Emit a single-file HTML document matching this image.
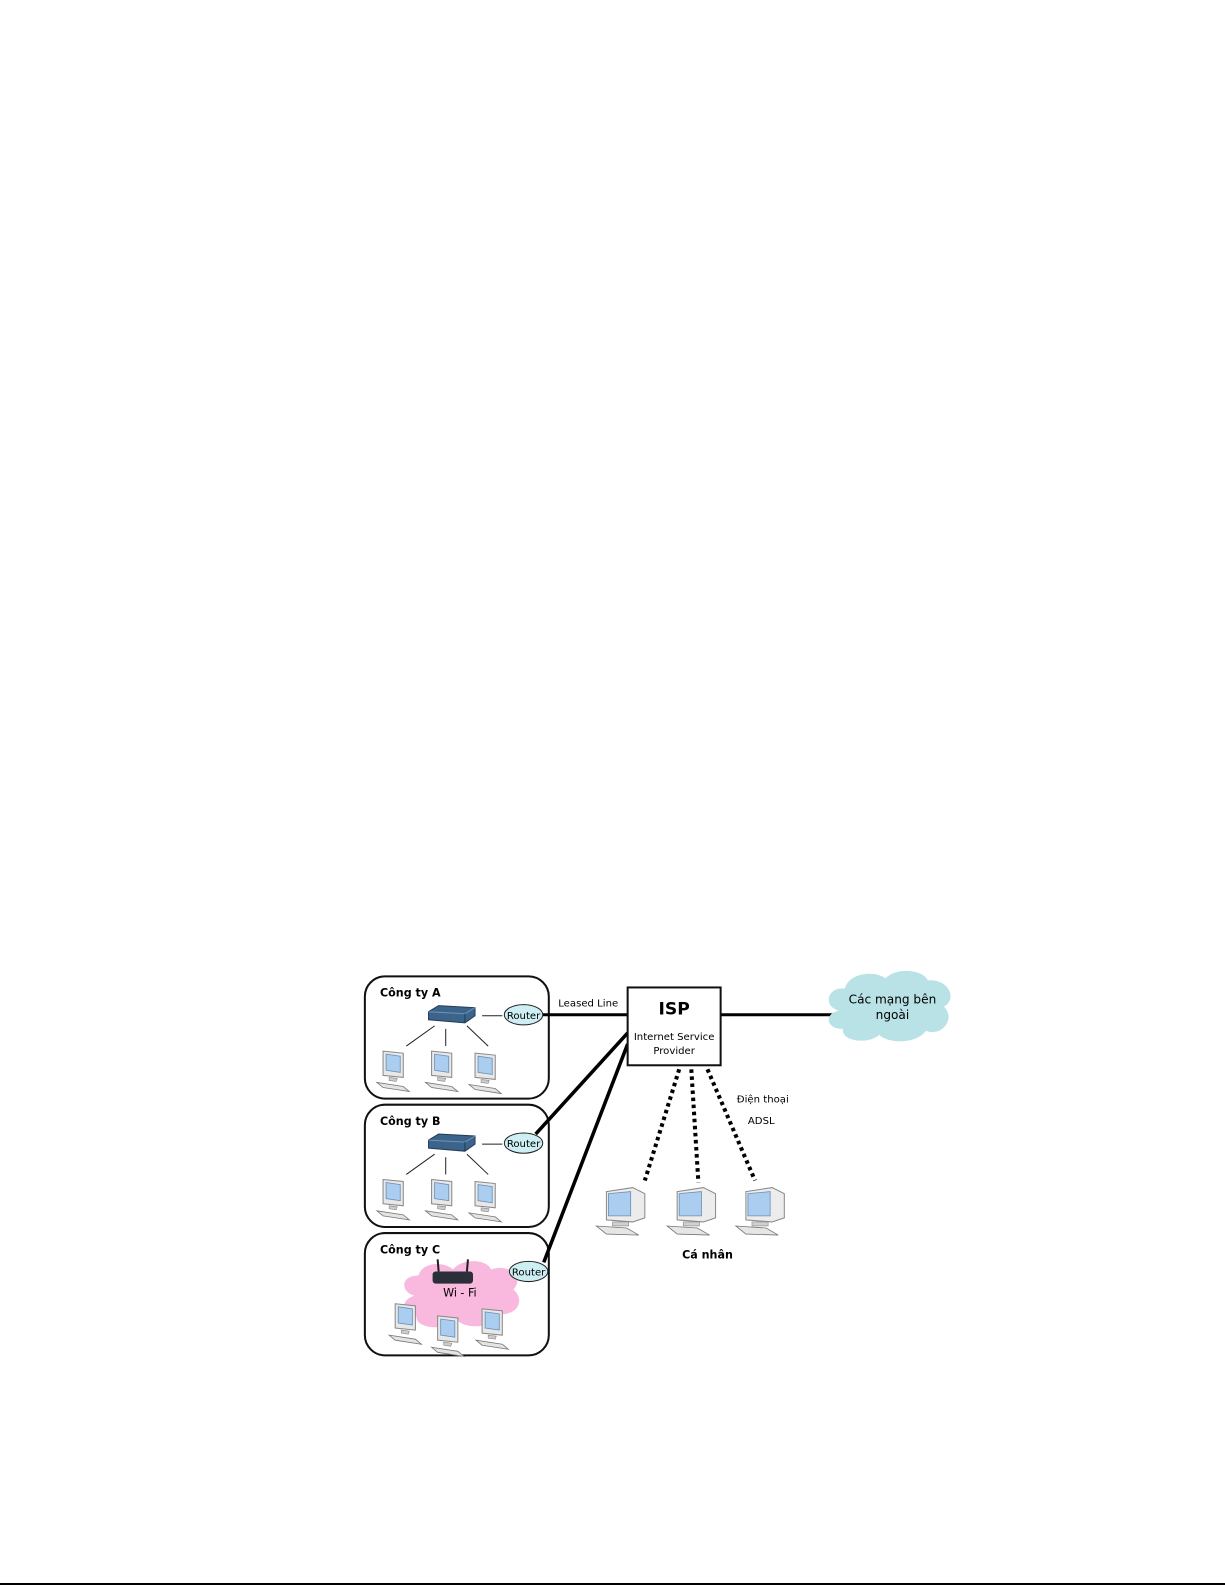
<!DOCTYPE html>
<html><head><meta charset="utf-8"><style>
html,body{margin:0;padding:0;background:#fff;}
svg{display:block;}
text{font-family:"DejaVu Sans","Liberation Sans",sans-serif;}
</style></head><body>
<svg width="1225" height="1585" viewBox="0 0 1225 1585" xmlns="http://www.w3.org/2000/svg">
<defs>
 <g id="pc">
  <path d="M6 0 L26 2 L26 26 L6 24 Z" fill="#e8e8e8" stroke="#888" stroke-width="1"/>
  <path d="M9 3 L23 5 L23 21 L9 19 Z" fill="#aacdf0" stroke="#6a8fb5" stroke-width="0.8"/>
  <path d="M12 26 L20 27 L19 30 L12 29 Z" fill="#ccc" stroke="#888" stroke-width="0.6"/>
  <path d="M0 31 L26 35 L32 40 L6 36 Z" fill="#e4e4e4" stroke="#777" stroke-width="0.8"/>
 </g>
 <g id="bigpc">
  <path d="M10 4 L36 0 L48 6 L48 30 L36 34 L10 32 Z" fill="#ececec" stroke="#888" stroke-width="1"/>
  <path d="M12 6 L34 4 L34 28 L12 28 Z" fill="#aacdf0" stroke="#6a8fb5" stroke-width="0.8"/>
  <path d="M16 34 L32 34 L32 38 L16 38 Z" fill="#d0d0d0" stroke="#888" stroke-width="0.6"/>
  <path d="M0 38 L30 40 L42 47 L10 46 Z" fill="#e6e6e6" stroke="#777" stroke-width="0.8"/>
 </g>
 <g id="sw">
  <path d="M0 6 L10 0 L46 2 L46 10 L36 17 L0 14 Z" fill="#3c6389" stroke="#223d58" stroke-width="1"/>
  <path d="M0 6 L36 8 L46 2" fill="none" stroke="#6d93b8" stroke-width="1"/>
  <path d="M36 8 L36 17" stroke="#223d58" stroke-width="1"/>
 </g>
</defs>
<g transform="scale(1.0107)">
<!-- company boxes -->
<rect x="361" y="966" width="182" height="121" rx="20" fill="#fff" stroke="#111" stroke-width="2"/>
<rect x="361" y="1093" width="182" height="121" rx="20" fill="#fff" stroke="#111" stroke-width="2"/>
<rect x="361" y="1220" width="182" height="121" rx="20" fill="#fff" stroke="#111" stroke-width="2"/>
<text x="376" y="986" font-size="11" font-weight="bold">Công ty A</text>
<text x="376" y="1113" font-size="11" font-weight="bold">Công ty B</text>
<text x="376" y="1240" font-size="11" font-weight="bold">Công ty C</text>

<!-- A -->
<use href="#sw" x="424" y="995"/>
<line x1="477" y1="1005" x2="497" y2="1005" stroke="#222" stroke-width="1"/>
<line x1="430" y1="1015" x2="402" y2="1035" stroke="#222" stroke-width="1"/>
<line x1="441" y1="1018" x2="441" y2="1035" stroke="#222" stroke-width="1"/>
<line x1="462" y1="1015" x2="483" y2="1035" stroke="#222" stroke-width="1"/>
<use href="#pc" x="373" y="1040"/><use href="#pc" x="421" y="1040"/><use href="#pc" x="464" y="1042"/>
<!-- B -->
<use href="#sw" x="424" y="1122"/>
<line x1="477" y1="1132" x2="497" y2="1132" stroke="#222" stroke-width="1"/>
<line x1="430" y1="1142" x2="402" y2="1162" stroke="#222" stroke-width="1"/>
<line x1="441" y1="1145" x2="441" y2="1162" stroke="#222" stroke-width="1"/>
<line x1="462" y1="1142" x2="483" y2="1162" stroke="#222" stroke-width="1"/>
<use href="#pc" x="373" y="1167"/><use href="#pc" x="421" y="1167"/><use href="#pc" x="464" y="1169"/>
<!-- C wifi cloud -->
<path d="M410 1282 C396 1278 396 1262 414 1262 C418 1248 440 1248 448 1256 C458 1244 482 1246 486 1256 C502 1250 520 1262 508 1276 C520 1286 512 1302 494 1300 C488 1314 462 1316 452 1306 C440 1318 410 1314 412 1302 C396 1300 396 1286 410 1282 Z" fill="#f9b8dd"/>
<rect x="428" y="1258" width="40" height="12" rx="3" fill="#2b2f3a"/>
<line x1="434" y1="1258" x2="433" y2="1246" stroke="#222" stroke-width="2"/>
<line x1="462" y1="1258" x2="463" y2="1246" stroke="#222" stroke-width="2"/>
<text x="455" y="1283" font-size="11" text-anchor="middle">Wi - Fi</text>
<use href="#pc" x="385" y="1290"/><use href="#pc" x="427" y="1302"/><use href="#pc" x="471" y="1295"/>

<!-- routers -->
<ellipse cx="518" cy="1004" rx="19" ry="10" fill="#cdeef2" stroke="#222" stroke-width="1"/>
<text x="518" y="1008" font-size="10" text-anchor="middle">Router</text>
<ellipse cx="518" cy="1131" rx="19" ry="10" fill="#cdeef2" stroke="#222" stroke-width="1"/>
<text x="518" y="1135" font-size="10" text-anchor="middle">Router</text>
<ellipse cx="523" cy="1258" rx="19" ry="10" fill="#cdeef2" stroke="#222" stroke-width="1"/>
<text x="523" y="1262" font-size="10" text-anchor="middle">Router</text>

<!-- connections -->
<line x1="537" y1="1004" x2="621" y2="1004" stroke="#000" stroke-width="3"/>
<line x1="530" y1="1122" x2="621" y2="1022" stroke="#000" stroke-width="3.5"/>
<line x1="538" y1="1249" x2="621" y2="1033" stroke="#000" stroke-width="3.5"/>
<line x1="713" y1="1004" x2="830" y2="1004" stroke="#000" stroke-width="3"/>
<text x="582" y="996" font-size="10" text-anchor="middle">Leased Line</text>

<!-- ISP -->
<rect x="621" y="977" width="92" height="77" fill="#fff" stroke="#111" stroke-width="2"/>
<text x="667" y="1004" font-size="17" font-weight="bold" text-anchor="middle" font-family="Liberation Serif,serif">ISP</text>
<text x="667" y="1029" font-size="10" text-anchor="middle">Internet Service</text>
<text x="667" y="1043" font-size="10" text-anchor="middle">Provider</text>

<!-- cloud -->
<path d="M830 1000 C814 996 818 976 836 978 C840 962 866 960 876 968 C888 956 914 960 918 970 C938 968 948 988 934 996 C946 1008 932 1026 916 1020 C906 1034 878 1032 870 1024 C858 1034 832 1030 834 1018 C816 1018 816 1002 830 1000 Z" fill="#b9e2e6"/>
<text x="883" y="993" font-size="12" text-anchor="middle">Các mạng bên</text>
<text x="883" y="1008" font-size="12" text-anchor="middle">ngoài</text>

<!-- dotted -->
<g stroke="#000" stroke-width="4" stroke-dasharray="3.5,3.5">
<line x1="672" y1="1058" x2="638" y2="1168"/>
<line x1="684" y1="1058" x2="691" y2="1170"/>
<line x1="700" y1="1058" x2="747" y2="1168"/>
</g>
<text x="729" y="1091" font-size="10">Điện thoại</text>
<text x="740" y="1112" font-size="10">ADSL</text>

<use href="#bigpc" x="590" y="1175"/>
<use href="#bigpc" x="660" y="1175"/>
<use href="#bigpc" x="728" y="1175"/>
<text x="700" y="1245" font-size="11" font-weight="bold" text-anchor="middle">Cá nhân</text>
</g>
<line x1="0" y1="1584" x2="1225" y2="1584" stroke="#000" stroke-width="2"/>
</svg>
</body></html>
